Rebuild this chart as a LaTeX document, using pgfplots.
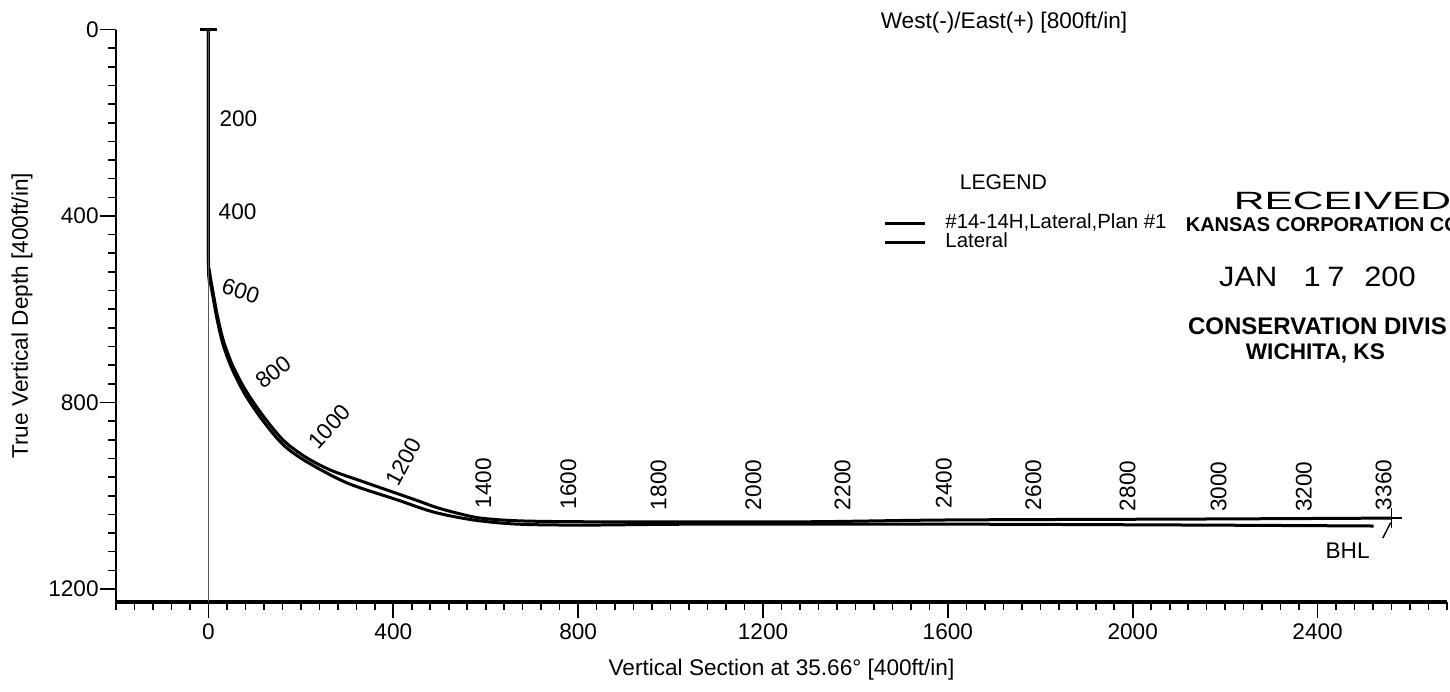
\documentclass[border=0pt]{standalone}
\usepackage{fontspec}
\setmainfont{Liberation Sans}
\usepackage{pgfplots}
\pgfplotsset{compat=1.18}

\newcommand\lab{\fontsize{11.3}{13}\selectfont}

\begin{document}
\begin{tikzpicture}[x=1pt,y=1pt]
\begin{axis}[
  at={(0,0)}, anchor=south west,
  scale only axis,
  width=665.5pt, height=286.25pt,
  xmin=-200, xmax=2680,
  ymin=0, ymax=1228,
  y dir=reverse,
  clip=false,
  axis x line=bottom, axis y line=left,
  x axis line style={-, line width=1.9pt},
  y axis line style={-, line width=1.2pt},
  tick align=outside,
  tick style={line width=0.8pt, black},
  major tick length=8pt, minor tick length=3.8pt,
  xtick={0,400,...,2400}, ytick={0,400,800,1200},
  minor xtick={-200,-160,...,2660},
  minor ytick={0,40,...,1200},
  ticklabel style={font=\lab},
  /pgf/number format/assume math mode=true,
  /pgf/number format/1000 sep={},
  yticklabel style={inner sep=0.5pt},
  xticklabel style={inner sep=2.5pt},
  xlabel={Vertical Section at 35.66° [400ft/in]},
  ylabel={True Vertical Depth [400ft/in]},
  xlabel style={font=\lab, at={(axis description cs:0.5,-0.1275)}, anchor=base},
  ylabel style={font=\lab, at={(axis description cs:-0.0706,0.5)}, anchor=center},
  legend style={at={(axis cs:1461,397)}, anchor=north west, draw=none, fill=none,
    inner sep=0pt, outer sep=0pt, row sep=0.3pt, font=\fontsize{10.2}{11}\selectfont,
    nodes={inner sep=0pt, text height=7pt, text depth=2pt},
    /tikz/every odd column/.append style={column sep=9.5pt}},
  legend cell align=left,
  legend image code/.code={\draw[line width=1.4pt] (0pt,0pt) -- (20pt,0pt);},
]

% plan: #14-14H, Lateral, Plan #1
\addplot [black, line width=1.5pt, smooth] coordinates {
(0,0) (0,473) (2,516) (9,558) (19,612) (32,666) (52,720) (80,773)
(117,827) (162,881) (210,917) (264,945) (329,968) (387,988) (448,1009)
(496,1026) (545,1039) (589,1048) (675,1054) (848,1056) (1281,1056)
(1606,1052) (2147,1050) (2560,1048)
};
\addlegendentry{\#14-14H,Lateral,Plan \#1}

% actual lateral
\addplot [black, line width=1.5pt, smooth] coordinates {
(0,0) (0,484) (2,527) (9,569) (19,623) (32,677) (52,730) (80,784)
(117,838) (162,891) (214,928) (301,973) (409,1009) (487,1035)
(573,1052) (669,1061) (812,1063) (1065,1061) (1606,1061) (2147,1063)
(2521,1065)
};
\addlegendentry{Lateral}

% reference line at zero section
\addplot [forget plot, gray!70!black, line width=0.5pt] coordinates {(0,0) (0,1228)};
% surface cap
\addplot [forget plot, black, line width=1.2pt] coordinates {(-18,0) (18,0)};
% BHL
\addplot [forget plot, black, only marks, mark=+, mark size=5pt, mark options={line width=0.8pt}]
  coordinates {(2560,1048)};
\draw [line width=0.7pt] (axis cs:2541,1091) -- (axis cs:2558,1058);
\node [font=\lab] at (axis cs:2465,1119) {BHL};

% measured depth labels
\node [font=\lab] at (axis cs:65,191) {200};
\node [font=\lab] at (axis cs:63,390) {400};
\node [font=\lab, rotate=-18] at (axis cs:70,561) {600};
\node [font=\lab, rotate=38] at (axis cs:140,735) {800};
\node [font=\lab, rotate=48] at (axis cs:262,852) {1000};
\node [font=\lab, rotate=62] at (axis cs:422,928) {1200};
\node [font=\lab, rotate=90] at (axis cs:595,973) {1400};
\node [font=\lab, rotate=90] at (axis cs:779,975) {1600};
\node [font=\lab, rotate=90] at (axis cs:974,977) {1800};
\node [font=\lab, rotate=90] at (axis cs:1179,977) {2000};
\node [font=\lab, rotate=90] at (axis cs:1372,977) {2200};
\node [font=\lab, rotate=90] at (axis cs:1591,973) {2400};
\node [font=\lab, rotate=90] at (axis cs:1785,977) {2600};
\node [font=\lab, rotate=90] at (axis cs:1989,979) {2800};
\node [font=\lab, rotate=90] at (axis cs:2186,981) {3000};
\node [font=\lab, rotate=90] at (axis cs:2370,981) {3200};
\node [font=\lab, rotate=90] at (axis cs:2543,977) {3360};

% top text and legend heading
\node [font=\lab, anchor=base west, inner sep=0pt] at (axis cs:1454,-3.2) {West(-)/East(+) [800ft/in]};
\node [font=\fontsize{10.6}{12}\selectfont] at (axis cs:1720,327) {LEGEND};

% received stamp
\node [anchor=base west, inner sep=0pt] at (axis cs:2218,386)
  {\scalebox{1.7}[1]{\fontsize{12.5}{14}\selectfont RECEIVED}};
\node [anchor=base west, inner sep=0pt, font=\fontsize{10}{12}\selectfont\bfseries] at (axis cs:2114,434)
  {KANSAS CORPORATION CO};
\node [anchor=base west, inner sep=0pt] at (axis cs:2186,552)
  {\scalebox{1.1}[1]{\fontsize{14}{16}\selectfont JAN\hspace{12pt}1\hspace{3pt}7\hspace{9pt}200}};
\node [anchor=base west, inner sep=0pt, font=\fontsize{12}{14}\selectfont\bfseries] at (axis cs:2119,655)
  {CONSERVATION DIVIS};
\node [anchor=base west, inner sep=0pt, font=\fontsize{11.3}{13}\selectfont\bfseries] at (axis cs:2244,707)
  {WICHITA, KS};
\end{axis}
\pgfresetboundingbox
\path (-58,-44.5) rectangle (667,301);
\end{tikzpicture}
\end{document}
